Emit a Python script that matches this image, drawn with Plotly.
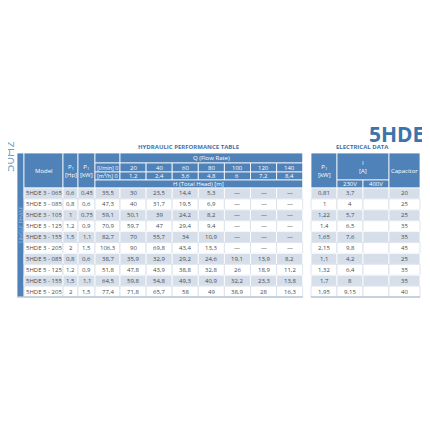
import plotly.graph_objects as go

models = ['5HDE 3 - 065', '5HDE 3 - 085', '5HDE 3 - 105', '5HDE 3 - 125', '5HDE 3 - 155',
          '5HDE 3 - 205', '5HDE 5 - 085', '5HDE 5 - 125', '5HDE 5 - 155', '5HDE 5 - 205']
p1_hp = [0.6, 0.8, 1, 1.2, 1.5, 2, 0.8, 1.2, 1.5, 2]
p1_kw = [0.45, 0.6, 0.75, 0.9, 1.1, 1.5, 0.6, 0.9, 1.1, 1.5]
q_lmin = [20, 40, 60, 80, 100, 120, 140]
q_m3h = [1.2, 2.4, 3.6, 4.8, 6, 7.2, 8.4]
heads = [
    [35.5, 30, 23.5, 14.4, 5.3, None, None, None],
    [47.3, 40, 31.7, 19.5, 6.9, None, None, None],
    [59.1, 50.1, 39, 24.2, 8.2, None, None, None],
    [70.9, 59.7, 47, 29.4, 9.4, None, None, None],
    [82.7, 70, 55.7, 34, 10.9, None, None, None],
    [106.3, 90, 69.8, 43.4, 13.3, None, None, None],
    [38.7, 35.9, 32.9, 29.2, 24.6, 19.1, 13.9, 8.2],
    [51.8, 47.8, 43.9, 38.8, 32.8, 26, 18.9, 11.2],
    [64.5, 59.8, 54.8, 49.3, 40.9, 32.2, 23.3, 13.8],
    [77.4, 71.8, 65.7, 58, 49, 38.9, 28, 16.3],
]
el_p1 = [0.81, 1, 1.22, 1.4, 1.65, 2.15, 1.1, 1.32, 1.7, 1.95]
amp_230 = [3.7, 4, 5.7, 6.5, 7.6, 9.8, 4.2, 6.4, 8, 9.15]
capacitor = [20, 25, 25, 35, 35, 45, 25, 35, 35, 40]

BLUE = '#4f82b8'
SHADE = '#d5dee9'
TXT = '#4a4a4a'
FONT = 'Open Sans'


def fmt(v):
    if v is None:
        return '—'
    return ('%g' % v).replace('.', ',')


shapes = []
ann = []


def cell(x0, x1, y0, y1, fill, line='white', text=None, color=TXT, size=6):
    shapes.append(dict(type='rect', x0=x0, x1=x1, y0=y0, y1=y1, fillcolor=fill,
                       line=dict(color=line, width=0.8), layer='below'))
    if text:
        ann.append(dict(x=(x0 + x1) / 2, y=(y0 + y1) / 2, text=text, showarrow=False,
                        font=dict(family=FONT, size=size, color=color)))


# hydraulic table geometry
q_step = 26.1
q_edges = [120 + q_step * i for i in range(len(q_lmin) + 1)]
hdr = [153, 163, 172, 180, 188]
row_h = 10.9
body_top = hdr[-1]

cell(17, 24, 153, body_top + row_h * len(models), BLUE)
ann.append(dict(x=20.5, y=225, text='SINGLE PHASE', textangle=-90, showarrow=False,
                font=dict(family=FONT, size=5.5, color='#9dbbdc')))

cell(24, 63, hdr[0], hdr[-1], BLUE, text='Model', color='white')
cell(63, 78, hdr[0], hdr[-1], BLUE, text='P<sub>1</sub><br>[Hp]', color='white')
cell(78, 95, hdr[0], hdr[-1], BLUE, text='P<sub>1</sub><br>[kW]', color='white')
cell(95, 120, hdr[0], hdr[1], BLUE)
cell(120, q_edges[-1], hdr[0], hdr[1], BLUE, text='Q (Flow Rate)', color='white')
cell(95, 120, hdr[1], hdr[2], BLUE, text='[l/min] 0', color='white', size=5.5)
cell(95, 120, hdr[2], hdr[3], BLUE, text='[m³/h] 0', color='white', size=5.5)
for i in range(len(q_lmin)):
    cell(q_edges[i], q_edges[i + 1], hdr[1], hdr[2], BLUE, text=fmt(q_lmin[i]), color='white')
    cell(q_edges[i], q_edges[i + 1], hdr[2], hdr[3], BLUE, text=fmt(q_m3h[i]), color='white')
cell(95, q_edges[-1], hdr[3], hdr[4], BLUE, text='H (Total Head) [m]', color='white')

h_edges = [95] + q_edges
for r, m in enumerate(models):
    y0 = body_top + r * row_h
    y1 = y0 + row_h
    fill = SHADE if r % 2 == 0 else 'white'
    ln = 'white' if r % 2 == 0 else '#d5dee9'
    cell(24, 63, y0, y1, fill, ln, m)
    cell(63, 78, y0, y1, fill, ln, fmt(p1_hp[r]))
    cell(78, 95, y0, y1, fill, ln, fmt(p1_kw[r]))
    for c, v in enumerate(heads[r]):
        cell(h_edges[c], h_edges[c + 1], y0, y1, fill, ln, fmt(v))

# electrical table
ex = [311, 337, 363, 389, 420]
cell(ex[0], ex[1], hdr[0], hdr[-1], BLUE, text='P<sub>1</sub><br>[kW]', color='white')
cell(ex[1], ex[3], hdr[0], hdr[3], BLUE, text='I<br>[A]', color='white')
cell(ex[1], ex[2], hdr[3], hdr[4], BLUE, text='230V', color='white')
cell(ex[2], ex[3], hdr[3], hdr[4], BLUE, text='400V', color='white')
cell(ex[3], ex[4], hdr[0], hdr[-1], BLUE, text='Capacitor', color='white')
for r in range(len(models)):
    y0 = body_top + r * row_h
    y1 = y0 + row_h
    fill = SHADE if r % 2 == 0 else 'white'
    ln = 'white' if r % 2 == 0 else '#d5dee9'
    cell(ex[0], ex[1], y0, y1, fill, ln, fmt(el_p1[r]))
    cell(ex[1], ex[2], y0, y1, fill, ln, fmt(amp_230[r]))
    cell(ex[2], ex[3], y0, y1, fill, ln)
    cell(ex[3], ex[4], y0, y1, fill, ln, fmt(capacitor[r]))

body_bot = body_top + row_h * len(models)
for a, b in [(17, q_edges[-1]), (ex[0], ex[-1])]:
    shapes.append(dict(type='line', x0=a, x1=b, y0=body_bot, y1=body_bot,
                       line=dict(color='#9fb3c8', width=1)))

ann += [
    dict(x=396, y=134, text='<b>5HDE</b>', showarrow=False,
         font=dict(family=FONT, size=21, color='#3f73ab')),
    dict(x=188, y=147, text='<b>HYDRAULIC PERFORMANCE TABLE</b>', showarrow=False,
         font=dict(family=FONT, size=6, color='#3f73ab')),
    dict(x=362, y=147, text='<b>ELECTRICAL DATA</b>', showarrow=False,
         font=dict(family=FONT, size=6, color='#3f73ab')),
    dict(x=9, y=157, text='50Hz', textangle=-90, showarrow=False,
         font=dict(family=FONT, size=13, color='#7f9fc3')),
]

fig = go.Figure(go.Scatter(x=[], y=[]))
# page body has an 8px margin, so the axes window is shifted to compensate
fig.update_layout(width=430, height=430, margin=dict(l=0, r=0, t=0, b=0),
                  plot_bgcolor='white', paper_bgcolor='white', showlegend=False,
                  xaxis=dict(range=[8, 438], visible=False),
                  yaxis=dict(range=[438, 8], visible=False),
                  shapes=shapes, annotations=ann)
fig.write_html("out.html")
